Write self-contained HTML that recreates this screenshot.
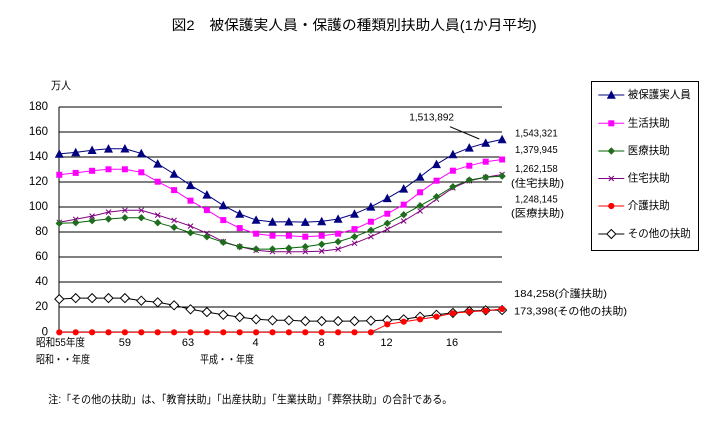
<!DOCTYPE html>
<html><head><meta charset="utf-8">
<style>
html,body{margin:0;padding:0;background:#fff;}
svg{display:block;}
text{font-family:"Liberation Sans","Noto Sans CJK JP",sans-serif;fill:#000;}
</style></head>
<body>
<svg width="723" height="425" viewBox="0 0 723 425" xmlns="http://www.w3.org/2000/svg">
<defs>
<marker id="mTri" markerUnits="userSpaceOnUse" markerWidth="12" markerHeight="12" refX="6" refY="6" viewBox="0 0 12 12" overflow="visible">
  <polygon points="2,9.5 10,9.5 6,2" fill="#000080" stroke="#000080" stroke-width="0.6"/>
</marker>
<marker id="mSq" markerUnits="userSpaceOnUse" markerWidth="12" markerHeight="12" refX="6" refY="6" viewBox="0 0 12 12" overflow="visible">
  <rect x="3" y="3" width="6" height="6" fill="#FF00FF"/>
</marker>
<marker id="mDia" markerUnits="userSpaceOnUse" markerWidth="12" markerHeight="12" refX="6" refY="6" viewBox="0 0 12 12" overflow="visible">
  <polygon points="6,2.3 9.7,6 6,9.7 2.3,6" fill="#1E6E1E"/>
</marker>
<marker id="mX" markerUnits="userSpaceOnUse" markerWidth="12" markerHeight="12" refX="6" refY="6" viewBox="0 0 12 12" overflow="visible">
  <path d="M3.5,3.5 L8.5,8.5 M8.5,3.5 L3.5,8.5" stroke="#800080" stroke-width="1"/>
</marker>
<marker id="mCir" markerUnits="userSpaceOnUse" markerWidth="12" markerHeight="12" refX="6" refY="6" viewBox="0 0 12 12" overflow="visible">
  <circle cx="6" cy="6" r="3.1" fill="#FF0000"/>
</marker>
<marker id="mOpen" markerUnits="userSpaceOnUse" markerWidth="12" markerHeight="12" refX="6" refY="6" viewBox="0 0 12 12" overflow="visible">
  <polygon points="6,1.5 10.5,6 6,10.5 1.5,6" fill="#fff" stroke="#000" stroke-width="1"/>
</marker>
</defs>

<rect width="723" height="425" fill="#fff"/>

<!-- title -->
<text x="171.7" y="25" font-size="14" dominant-baseline="central" textLength="365" lengthAdjust="spacingAndGlyphs">図2　被保護実人員・保護の種類別扶助人員(1か月平均)</text>

<!-- unit -->
<text x="51" y="86" font-size="11" dominant-baseline="central" textLength="20" lengthAdjust="spacingAndGlyphs">万人</text>

<!-- gridlines -->
<g stroke="#000" stroke-width="1" shape-rendering="crispEdges">
  <line x1="59" y1="107" x2="502" y2="107"/>
  <line x1="59" y1="132" x2="502" y2="132"/>
  <line x1="59" y1="157" x2="502" y2="157"/>
  <line x1="59" y1="182" x2="502" y2="182"/>
  <line x1="59" y1="207" x2="502" y2="207"/>
  <line x1="59" y1="232" x2="502" y2="232"/>
  <line x1="59" y1="257" x2="502" y2="257"/>
  <line x1="59" y1="282" x2="502" y2="282"/>
  <line x1="59" y1="307" x2="502" y2="307"/>
  <line x1="59" y1="332" x2="502" y2="332"/>
  <line x1="59" y1="107" x2="59" y2="332"/>
</g>

<!-- y labels -->
<g font-size="11.5" text-anchor="end">
  <text x="48" y="107" dominant-baseline="central">180</text>
  <text x="48" y="132" dominant-baseline="central">160</text>
  <text x="48" y="157" dominant-baseline="central">140</text>
  <text x="48" y="182" dominant-baseline="central">120</text>
  <text x="48" y="207" dominant-baseline="central">100</text>
  <text x="48" y="232" dominant-baseline="central">80</text>
  <text x="48" y="257" dominant-baseline="central">60</text>
  <text x="48" y="282" dominant-baseline="central">40</text>
  <text x="48" y="307" dominant-baseline="central">20</text>
  <text x="48" y="332.5" dominant-baseline="central">0</text>
</g>

<!-- x labels -->
<g font-size="11">
  <text x="36" y="343" dominant-baseline="central" textLength="49" lengthAdjust="spacingAndGlyphs">昭和55年度</text>
  <text x="124.9" y="343" dominant-baseline="central" text-anchor="middle">59</text>
  <text x="188" y="343" dominant-baseline="central" text-anchor="middle">63</text>
  <text x="255.5" y="343" dominant-baseline="central" text-anchor="middle">4</text>
  <text x="321.5" y="343" dominant-baseline="central" text-anchor="middle">8</text>
  <text x="386.5" y="343" dominant-baseline="central" text-anchor="middle">12</text>
  <text x="452" y="343" dominant-baseline="central" text-anchor="middle">16</text>
  <text x="36" y="360" dominant-baseline="central" textLength="54" lengthAdjust="spacingAndGlyphs">昭和・・年度</text>
  <text x="200" y="360" dominant-baseline="central" textLength="54" lengthAdjust="spacingAndGlyphs">平成・・年度</text>
</g>

<!-- series -->
<g fill="none" stroke-width="1">
<polyline stroke="#000000" marker-start="url(#mOpen)" marker-mid="url(#mOpen)" marker-end="url(#mOpen)" points="59.3,299.1 75.7,298.1 92.1,298.1 108.5,298.1 124.9,298.1 141.3,300.7 157.7,302.3 174.1,305.3 190.5,309.3 206.9,312.1 223.3,314.8 239.7,317.1 256.1,319.3 272.5,320.3 288.9,320.3 305.3,321.1 321.7,321.1 338.1,321.1 354.5,321.1 370.9,320.7 387.3,320.1 403.7,319.3 420.1,316.7 436.5,314.8 452.9,312.9 469.3,311.1 485.7,310.3 502.1,310.1"/>
<polyline stroke="#FF0000" marker-start="url(#mCir)" marker-mid="url(#mCir)" marker-end="url(#mCir)" points="59.3,332.3 75.7,332.3 92.1,332.3 108.5,332.3 124.9,332.3 141.3,332.3 157.7,332.3 174.1,332.3 190.5,332.3 206.9,332.3 223.3,332.3 239.7,332.3 256.1,332.3 272.5,332.3 288.9,332.3 305.3,332.3 321.7,332.3 338.1,332.3 354.5,332.3 370.9,332.3 387.3,324.3 403.7,321.7 420.1,319.3 436.5,316.7 452.9,313.3 469.3,311.7 485.7,310.8 502.1,309.0"/>
<polyline stroke="#800080" marker-start="url(#mX)" marker-mid="url(#mX)" marker-end="url(#mX)" points="59.3,222.3 75.7,219.3 92.1,216.1 108.5,212.1 124.9,210.3 141.3,210.3 157.7,215.1 174.1,220.3 190.5,226.1 206.9,233.3 223.3,241.7 239.7,246.7 256.1,250.3 272.5,251.7 288.9,251.7 305.3,251.7 321.7,251.1 338.1,249.1 354.5,243.3 370.9,236.7 387.3,229.3 403.7,221.0 420.1,211.0 436.5,199.2 452.9,187.9 469.3,180.8 485.7,177.3 502.1,174.5"/>
<polyline stroke="#006400" marker-start="url(#mDia)" marker-mid="url(#mDia)" marker-end="url(#mDia)" points="59.3,223.3 75.7,222.7 92.1,220.7 108.5,219.0 124.9,217.7 141.3,217.7 157.7,222.7 174.1,227.3 190.5,232.7 206.9,236.7 223.3,242.3 239.7,246.7 256.1,249.1 272.5,249.1 288.9,248.1 305.3,246.7 321.7,244.3 338.1,241.7 354.5,236.7 370.9,230.3 387.3,223.3 403.7,214.7 420.1,205.7 436.5,196.7 452.9,186.7 469.3,180.1 485.7,177.3 502.1,176.1"/>
<polyline stroke="#FF00FF" marker-start="url(#mSq)" marker-mid="url(#mSq)" marker-end="url(#mSq)" points="59.3,174.8 75.7,172.9 92.1,170.8 108.5,169.3 124.9,169.3 141.3,172.3 157.7,181.7 174.1,190.1 190.5,200.7 206.9,210.1 223.3,220.1 239.7,228.1 256.1,233.7 272.5,235.7 288.9,235.7 305.3,236.7 321.7,235.7 338.1,233.7 354.5,229.1 370.9,221.7 387.3,213.7 403.7,204.7 420.1,192.3 436.5,180.7 452.9,170.7 469.3,165.7 485.7,161.7 502.1,159.5"/>
<polyline stroke="#000080" marker-start="url(#mTri)" marker-mid="url(#mTri)" marker-end="url(#mTri)" points="59.3,153.9 75.7,152.4 92.1,150.2 108.5,148.8 124.9,148.7 141.3,153.4 157.7,163.8 174.1,174.0 190.5,185.3 206.9,194.8 223.3,205.4 239.7,214.0 256.1,220.0 272.5,221.9 288.9,221.7 305.3,222.1 321.7,221.4 338.1,219.0 354.5,213.9 370.9,206.8 387.3,198.3 403.7,188.8 420.1,176.9 436.5,164.3 452.9,154.4 469.3,147.8 485.7,143.0 502.1,139.4"/>
</g>

<!-- annotations -->
<line x1="450" y1="126.7" x2="479.3" y2="139" stroke="#000" stroke-width="1"/>
<g font-size="10.5">
  <text x="409.3" y="117.3" dominant-baseline="central" textLength="44.7" lengthAdjust="spacingAndGlyphs">1,513,892</text>
  <text x="515" y="133.7" dominant-baseline="central" textLength="42.7" lengthAdjust="spacingAndGlyphs">1,543,321</text>
  <text x="515" y="150" dominant-baseline="central" textLength="42.7" lengthAdjust="spacingAndGlyphs">1,379,945</text>
  <text x="515" y="169" dominant-baseline="central" textLength="42.7" lengthAdjust="spacingAndGlyphs">1,262,158</text>
  <text x="511" y="183.3" dominant-baseline="central" textLength="53" lengthAdjust="spacingAndGlyphs">(住宅扶助)</text>
  <text x="515" y="199.3" dominant-baseline="central" textLength="42.7" lengthAdjust="spacingAndGlyphs">1,248,145</text>
  <text x="511" y="213.3" dominant-baseline="central" textLength="53" lengthAdjust="spacingAndGlyphs">(医療扶助)</text>
  <text x="514" y="294" dominant-baseline="central" textLength="93" lengthAdjust="spacingAndGlyphs">184,258(介護扶助)</text>
  <text x="514" y="311.7" dominant-baseline="central" textLength="113" lengthAdjust="spacingAndGlyphs">173,398(その他の扶助)</text>
</g>

<!-- legend -->
<rect x="591.5" y="81.5" width="107" height="169" fill="#fff" stroke="#000" stroke-width="1" shape-rendering="crispEdges"/>
<g fill="none" stroke-width="1">
  <polyline stroke="#000080" marker-mid="url(#mTri)" points="598.3,95 611.3,95 624.3,95"/>
  <polyline stroke="#FF00FF" marker-mid="url(#mSq)" points="598.3,123.3 611.3,123.3 624.3,123.3"/>
  <polyline stroke="#006400" marker-mid="url(#mDia)" points="598.3,151 611.3,151 624.3,151"/>
  <polyline stroke="#800080" marker-mid="url(#mX)" points="598.3,178.5 611.3,178.5 624.3,178.5"/>
  <polyline stroke="#FF0000" marker-mid="url(#mCir)" points="598.3,206 611.3,206 624.3,206"/>
  <polyline stroke="#000000" marker-mid="url(#mOpen)" points="598.3,234 611.3,234 624.3,234"/>
</g>
<g font-size="11">
  <text x="627.7" y="95" dominant-baseline="central" textLength="63" lengthAdjust="spacingAndGlyphs">被保護実人員</text>
  <text x="627.7" y="123.3" dominant-baseline="central" textLength="42" lengthAdjust="spacingAndGlyphs">生活扶助</text>
  <text x="627.7" y="151" dominant-baseline="central" textLength="42" lengthAdjust="spacingAndGlyphs">医療扶助</text>
  <text x="627.7" y="178.5" dominant-baseline="central" textLength="42" lengthAdjust="spacingAndGlyphs">住宅扶助</text>
  <text x="627.7" y="206" dominant-baseline="central" textLength="42" lengthAdjust="spacingAndGlyphs">介護扶助</text>
  <text x="627.7" y="234" dominant-baseline="central" textLength="63" lengthAdjust="spacingAndGlyphs">その他の扶助</text>
</g>

<!-- footnote -->
<text x="48.3" y="400" font-size="11" dominant-baseline="central" textLength="404" lengthAdjust="spacingAndGlyphs">注:「その他の扶助」は、「教育扶助」「出産扶助」「生業扶助」「葬祭扶助」の合計である。</text>
</svg>
</body></html>
